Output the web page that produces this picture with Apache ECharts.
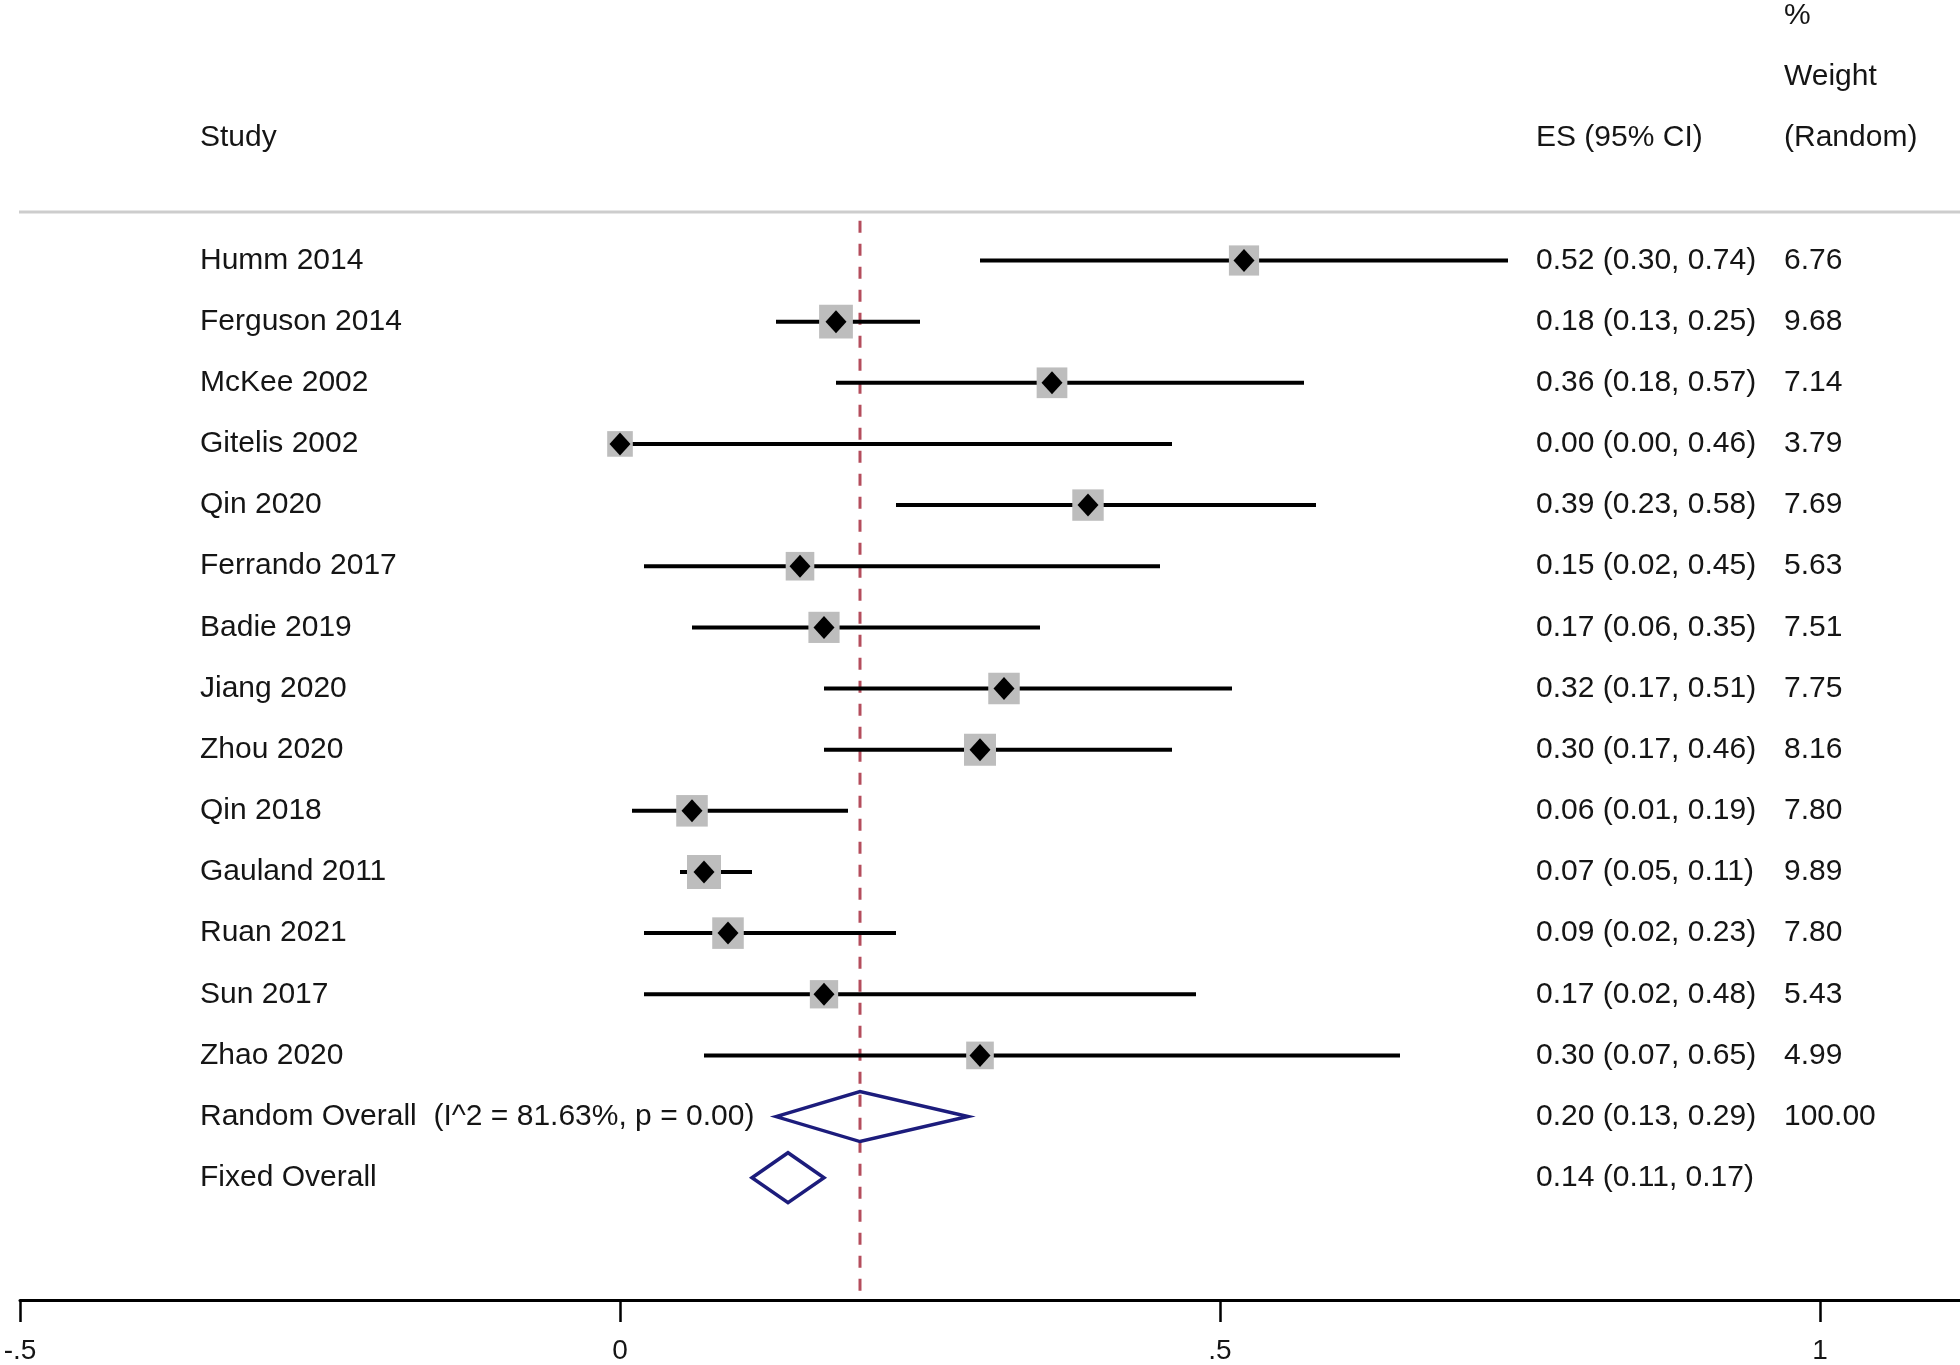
<!DOCTYPE html>
<html><head><meta charset="utf-8">
<script src="https://cdn.jsdelivr.net/npm/echarts@6/dist/echarts.min.js"></script>
<style>html,body{margin:0;padding:0;background:#fff}#c{width:1960px;height:1365px}</style>
</head><body><div id="c"></div>
<script>
// ---------- data ----------
const studies = ['Humm 2014','Ferguson 2014','McKee 2002','Gitelis 2002','Qin 2020','Ferrando 2017','Badie 2019','Jiang 2020','Zhou 2020','Qin 2018','Gauland 2011','Ruan 2021','Sun 2017','Zhao 2020'];
const es      = [0.52,0.18,0.36,0.00,0.39,0.15,0.17,0.32,0.30,0.06,0.07,0.09,0.17,0.30];
const ciLow   = [0.30,0.13,0.18,0.00,0.23,0.02,0.06,0.17,0.17,0.01,0.05,0.02,0.02,0.07];
const ciHigh  = [0.74,0.25,0.57,0.46,0.58,0.45,0.35,0.51,0.46,0.19,0.11,0.23,0.48,0.65];
const weights = [6.76,9.68,7.14,3.79,7.69,5.63,7.51,7.75,8.16,7.80,9.89,7.80,5.43,4.99];
const overallLabels  = ['Random Overall  (I^2 = 81.63%, p = 0.00)','Fixed Overall'];
const overallES      = [0.20,0.14];
const overallLow     = [0.13,0.11];
const overallHigh    = [0.29,0.17];
const overallWeight  = ['100.00',''];
const headerStudy  = 'Study';
const headerES     = 'ES (95% CI)';
const headerWeight = ['%','Weight','(Random)'];
const xTicks      = [-0.5,0,0.5,1];
const xTickLabels = ['-.5','0','.5','1'];

// ---------- layout ----------
const FONT = '30px "Liberation Sans", Arial, sans-serif';
const TXT = '#151515';
const COL_STUDY = 200, COL_ES = 1536, COL_W = 1784;
const Y_MIN = -4, Y_MAX = 17.0;

const fmt = v => v.toFixed(2);
const studyData = studies.map((s,i)=>[i, es[i], ciLow[i], ciHigh[i], weights[i]]);
const n = studies.length;
const overallData = overallES.map((e,i)=>[n+i, e, overallLow[i], overallHigh[i]]);

// text rows: [row, column x, text]
const textRows = [];
textRows.push([-2, COL_STUDY, headerStudy]);
textRows.push([-2, COL_ES, headerES]);
headerWeight.forEach((t,k)=>textRows.push([-4+k, COL_W, t]));
studies.forEach((s,i)=>{
  textRows.push([i, COL_STUDY, s]);
  textRows.push([i, COL_ES, fmt(es[i])+' ('+fmt(ciLow[i])+', '+fmt(ciHigh[i])+')']);
  textRows.push([i, COL_W, fmt(weights[i])]);
});
overallLabels.forEach((s,i)=>{
  textRows.push([n+i, COL_STUDY, s]);
  textRows.push([n+i, COL_ES, fmt(overallES[i])+' ('+fmt(overallLow[i])+', '+fmt(overallHigh[i])+')']);
  if (overallWeight[i]) textRows.push([n+i, COL_W, overallWeight[i]]);
});

const chart = echarts.init(document.getElementById('c'), null, {renderer:'canvas'});
chart.setOption({
  animation:false,
  backgroundColor:'#fff',
  grid:{left:20, right:0, top:15.9, bottom:61},
  xAxis:{
    type:'value', min:-0.5, max:-0.5 + 1940/1200,
    axisLine:{show:true, onZero:false, lineStyle:{color:'#000', width:3}},
    axisTick:{show:true, customValues:xTicks, length:22, lineStyle:{color:'#000', width:2.5}},
    axisLabel:{show:true, customValues:xTicks, margin:37,
      formatter:v=>{const k=xTicks.indexOf(v); return k>=0?xTickLabels[k]:'';},
      fontFamily:'"Liberation Sans", Arial, sans-serif', fontSize:28, color:TXT},
    splitLine:{show:false}
  },
  yAxis:{type:'value', inverse:true, min:Y_MIN, max:Y_MAX, show:false},
  graphic:[{type:'line', shape:{x1:19,y1:212,x2:1960,y2:212}, style:{stroke:'#cdcdcd', lineWidth:3}, z:1}],
  series:[
    {
      type:'line', symbol:'none', silent:true, z:1,
      data:[[overallES[0], -0.65],[overallES[0], Y_MAX]],
      lineStyle:{color:'#b44d5c', width:3, type:[12,11]}
    },
    {
      type:'custom', z:3, data:studyData,
      renderItem:(p,api)=>{
        const row=api.value(0), e=api.value(1), l=api.value(2), h=api.value(3), w=api.value(4);
        const pL=api.coord([l,row]), pH=api.coord([h,row]), pE=api.coord([e,row]);
        const side = 12 + 7*Math.sqrt(w);
        return {type:'group', children:[
          {type:'line', shape:{x1:pL[0],y1:pL[1],x2:pH[0],y2:pH[1]}, style:{stroke:'#000', lineWidth:4}},
          {type:'rect', shape:{x:pE[0]-side/2,y:pE[1]-side/2,width:side,height:side}, style:{fill:'#bdbdbd'}},
          {type:'polygon', shape:{points:[[pE[0]-10.5,pE[1]],[pE[0],pE[1]-11.5],[pE[0]+10.5,pE[1]],[pE[0],pE[1]+11.5]]}, style:{fill:'#000'}}
        ]};
      }
    },
    {
      type:'custom', z:3, data:overallData,
      renderItem:(p,api)=>{
        const row=api.value(0), e=api.value(1), l=api.value(2), h=api.value(3);
        const pL=api.coord([l,row]), pH=api.coord([h,row]), pE=api.coord([e,row]);
        return {type:'polygon', shape:{points:[[pL[0],pL[1]],[pE[0],pE[1]-25],[pH[0],pH[1]],[pE[0],pE[1]+25]]},
          style:{fill:'none', stroke:'#1c1c7c', lineWidth:3.5, lineJoin:'miter'}};
      }
    },
    {
      type:'custom', z:4, data:textRows,
      renderItem:(p,api)=>{
        const row=api.value(0), x=api.value(1);
        const txt=textRows[p.dataIndex][2];
        const py=api.coord([0,row])[1];
        return {type:'text', style:{text:txt, x:x, y:py, font:FONT, fill:TXT, align:'left', verticalAlign:'middle'}};
      }
    }
  ]
});
</script></body></html>
